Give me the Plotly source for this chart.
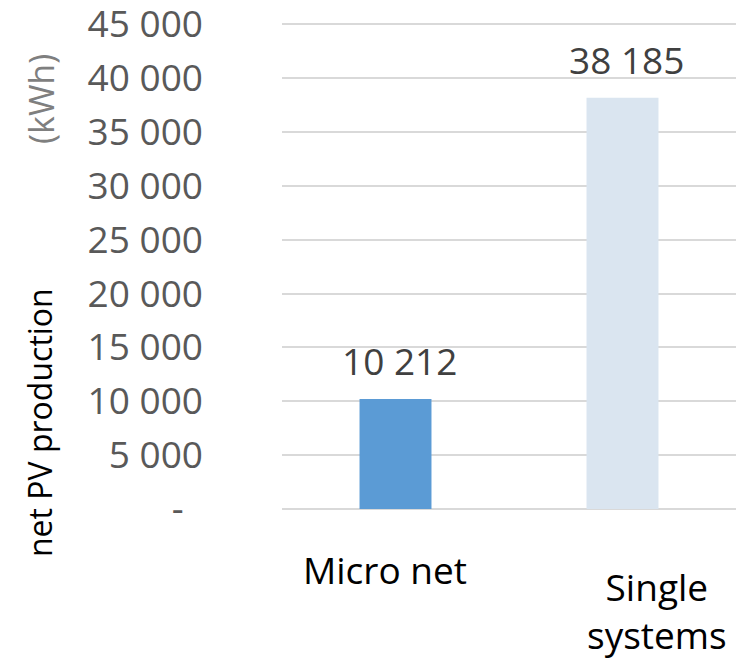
import plotly.graph_objects as go

# Net PV production per configuration (kWh)
categories = ["Micro net", "Single systems"]
category_labels = ["Micro net", "Single<br>systems"]
production_kwh = [10212, 38185]
bar_colors = ["#5B9BD5", "#DAE5F0"]

tick_values = [0, 5000, 10000, 15000, 20000, 25000, 30000, 35000, 40000, 45000]
tick_labels = ["-\u00a0\u00a0", "5 000", "10 000", "15 000", "20 000", "25 000",
               "30 000", "35 000", "40 000", "45 000"]

FONT = "Open Sans"
GRID = "#D9D9D9"


def fmt(v):
    return f"{v:,}".replace(",", " ")


fig = go.Figure(
    go.Bar(
        x=categories,
        y=production_kwh,
        marker=dict(color=bar_colors, line=dict(width=0)),
        hoverinfo="skip",
    )
)

annotations = []
# value labels above bars
for cat, val in zip(categories, production_kwh):
    annotations.append(dict(
        x=cat, y=val, xref="x", yref="y", text=fmt(val), showarrow=False,
        xanchor="center", yanchor="bottom", xshift=4, yshift=11,
        font=dict(family=FONT, size=37, color="#404040"),
    ))

# category labels below the axis
cat_shift = [(-11, -33), (34, -50)]
for cat, lab, (dx, dy) in zip(categories, category_labels, cat_shift):
    annotations.append(dict(
        x=cat, y=0, xref="x", yref="paper", text=lab, showarrow=False,
        xanchor="center", yanchor="top", xshift=dx, yshift=dy,
        font=dict(family=FONT, size=37, color="#000000"),
    ))

# y-axis title in two parts (positions in pixels converted to paper units)
PLOT_L, PLOT_W, PLOT_B, PLOT_H = 282, 454, 509, 489


def px_x(px):
    return (px - PLOT_L) / PLOT_W


def px_y(py):
    return (PLOT_B - py) / PLOT_H


annotations.append(dict(
    x=px_x(39), y=px_y(422), xref="paper", yref="paper", text="net PV production",
    showarrow=False, textangle=-90, xanchor="center", yanchor="middle",
    font=dict(family=FONT, size=32, color="#000000"),
))
annotations.append(dict(
    x=px_x(41), y=px_y(99), xref="paper", yref="paper", text="(kWh)",
    showarrow=False, textangle=-90, xanchor="center", yanchor="middle",
    font=dict(family=FONT, size=34, color="#7F7F7F"),
))

fig.update_layout(
    width=748, height=659,
    margin=dict(l=282, r=12, t=20, b=150, autoexpand=False),
    paper_bgcolor="white", plot_bgcolor="white",
    bargap=0.683,
    showlegend=False,
    annotations=annotations,
    xaxis=dict(showticklabels=False, showgrid=False, zeroline=False,
               showline=False, ticks="", automargin=False),
    yaxis=dict(
        range=[0, 45400], tickmode="array", tickvals=tick_values,
        ticktext=tick_labels, showgrid=True, gridcolor=GRID, gridwidth=1.5,
        zeroline=True, zerolinecolor=GRID, zerolinewidth=1.5,
        showline=False, ticks="", ticklabelstandoff=78,
        ticklabeloverflow="allow", automargin=False,
        tickfont=dict(family=FONT, size=37, color="#595959"),
    ),
)

fig.write_html("out.html")
